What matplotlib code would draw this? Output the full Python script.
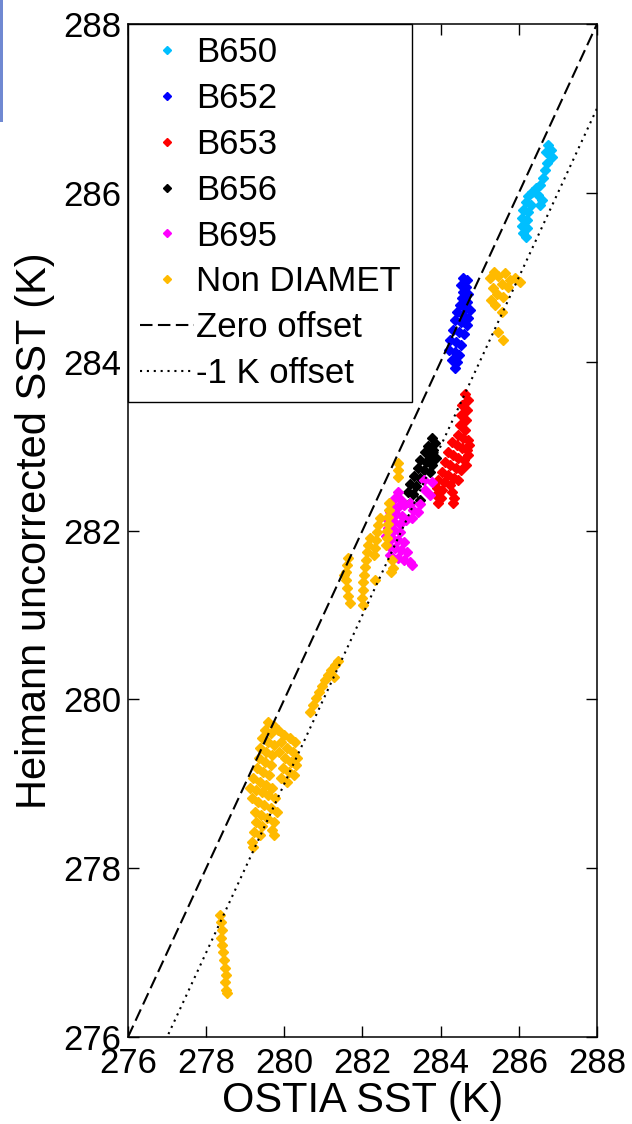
import numpy as np
import matplotlib
matplotlib.use("Agg")
import matplotlib.pyplot as plt
from matplotlib.patches import Rectangle

plt.rcParams['font.family'] = ['Liberation Sans', 'DejaVu Sans']

# ---------------- data ----------------
b650_x = [286.75, 286.82, 286.70, 286.85, 286.72, 286.67, 286.62, 286.54, 286.44, 286.34, 286.24, 286.49,
          286.59, 286.18, 286.31, 286.54, 286.11, 286.24, 286.08, 286.21, 286.08, 286.21, 286.11, 286.18]
b650_y = [286.57, 286.51, 286.48, 286.42, 286.35, 286.27, 286.18, 286.09, 286.06, 286.01, 285.96, 285.97,
          285.92, 285.89, 285.86, 285.86, 285.80, 285.77, 285.70, 285.68, 285.61, 285.58, 285.52, 285.48]

b652_x = [284.57, 284.67, 284.52, 284.65, 284.57, 284.70, 284.55, 284.67, 284.50, 284.62, 284.75, 284.42,
          284.57, 284.70, 284.37, 284.52, 284.67, 284.32, 284.47, 284.60, 284.24, 284.39, 284.52, 284.21,
          284.37, 284.47, 284.29, 284.42, 284.37]
b652_y = [284.99, 284.97, 284.91, 284.88, 284.83, 284.80, 284.75, 284.71, 284.67, 284.64, 284.61, 284.59,
          284.55, 284.52, 284.49, 284.47, 284.43, 284.38, 284.35, 284.33, 284.26, 284.23, 284.20, 284.14,
          284.11, 284.08, 284.02, 284.00, 283.93]

b653_x = [284.62, 284.70, 284.55, 284.67, 284.52, 284.65, 284.50, 284.62, 284.44, 284.57, 284.70, 284.29,
          284.42, 284.73, 284.55, 284.67, 284.19, 284.32, 284.70, 284.44, 284.60, 284.11, 284.24, 284.65,
          284.39, 284.52, 284.03, 284.19, 284.34, 283.93, 284.44, 284.09, 284.24, 283.91, 284.03, 284.29,
          283.88, 284.01, 284.34, 283.93, 284.32]
b653_y = [283.62, 283.55, 283.49, 283.43, 283.37, 283.31, 283.25, 283.19, 283.13, 283.10, 283.07, 283.05,
          283.01, 283.01, 282.98, 282.95, 282.93, 282.89, 282.89, 282.86, 282.84, 282.81, 282.78, 282.78,
          282.74, 282.72, 282.69, 282.66, 282.62, 282.60, 282.60, 282.57, 282.54, 282.50, 282.48, 282.46,
          282.42, 282.39, 282.39, 282.33, 282.33]

b656_x = [283.78, 283.86, 283.68, 283.80, 283.60, 283.73, 283.88, 283.47, 283.63, 283.78, 283.42, 283.57,
          283.73, 283.32, 283.47, 283.22, 283.37, 283.16, 283.29, 283.47, 283.22]
b656_y = [283.10, 283.04, 283.00, 282.95, 282.93, 282.88, 282.86, 282.84, 282.81, 282.78, 282.74, 282.72,
          282.69, 282.65, 282.62, 282.55, 282.53, 282.46, 282.43, 282.36, 282.33]

b695_x = [282.91, 282.83, 282.99, 282.76, 282.91, 283.06, 282.70, 282.86, 283.01, 283.22, 283.29, 282.65,
          282.81, 282.96, 283.11, 283.27, 282.65, 282.81, 282.96, 282.60, 282.76, 282.91, 283.06, 282.68,
          282.83, 282.99, 283.14, 282.70, 282.91, 283.06, 283.22, 283.27, 283.47, 283.60, 283.78, 283.73,
          283.42, 283.57]
b695_y = [282.46, 282.39, 282.36, 282.30, 282.28, 282.30, 282.22, 282.20, 282.17, 282.33, 282.24, 282.12,
          282.10, 282.08, 282.12, 282.15, 282.03, 282.01, 281.98, 281.94, 281.91, 281.89, 281.86, 281.82,
          281.79, 281.77, 281.75, 281.71, 281.67, 281.65, 281.63, 281.59, 282.31, 282.48, 282.57, 282.42,
          282.22, 282.60]

nondiamet_x = [
    # near 285.5
    285.37, 285.26, 285.47, 285.65, 285.77, 285.90, 286.03, 285.57, 285.72, 285.34, 285.44, 285.60,
    285.29, 285.39, 285.57, 285.47, 285.60,
    # near 282.9
    282.91, 282.91, 282.91,
    # near 282-282.7
    282.68, 282.68, 282.65, 282.65, 282.63, 282.63, 282.60, 282.76, 282.78, 282.73,
    282.45, 282.40, 282.37, 282.35, 282.32, 282.29,
    282.19, 282.14, 282.12, 282.09, 282.06, 282.04, 282.01, 282.01, 281.99, 282.01, 282.32,
    281.63, 281.60, 281.58, 281.58, 281.60, 281.63, 281.68, 281.53,
    # near 281
    281.37, 281.30, 281.19, 281.12, 281.04, 280.96, 280.89, 280.81, 280.73, 280.66, 281.27,
    # near 279.7
    279.58, 279.74, 279.51, 279.66, 279.84, 279.99, 280.15, 280.27, 279.43, 279.58, 279.74, 279.92,
    280.07, 280.22, 280.32, 279.38, 279.53, 279.68, 279.86, 280.02, 280.17, 280.30, 279.35, 279.51,
    279.66, 279.97, 280.12, 280.25, 279.30, 279.45, 279.61, 279.92, 280.07, 279.20, 279.38, 279.53,
    279.68, 279.12, 279.28, 279.43, 279.58, 279.76, 279.17, 279.33, 279.48, 279.66, 279.81, 279.25,
    279.40, 279.56, 279.74, 279.28, 279.43, 279.68, 279.22, 279.38, 279.74, 279.17, 279.20,
    # near 278.4
    278.35, 278.38, 278.41, 278.38, 278.41, 278.43, 278.46, 278.48, 278.51, 278.48, 278.51, 278.53]
nondiamet_y = [
    285.06, 284.99, 285.02, 285.05, 284.97, 284.99, 284.94, 284.92, 284.88, 284.87, 284.80, 284.77,
    284.73, 284.67, 284.59, 284.35, 284.26,
    282.80, 282.72, 282.63,
    282.33, 282.24, 282.16, 282.08, 281.99, 281.91, 281.83, 281.65, 281.56, 281.51,
    282.15, 282.07, 281.98, 281.89, 281.79, 281.71,
    281.91, 281.83, 281.75, 281.65, 281.57, 281.47, 281.39, 281.30, 281.20, 281.12, 281.41,
    281.67, 281.59, 281.51, 281.41, 281.32, 281.22, 281.14, 281.47,
    280.45, 280.41, 280.35, 280.29, 280.23, 280.16, 280.09, 280.02, 279.93, 279.85, 280.26,
    279.73, 279.68, 279.64, 279.60, 279.64, 279.58, 279.54, 279.49, 279.54, 279.49, 279.46, 279.49,
    279.42, 279.38, 279.31, 279.42, 279.38, 279.34, 279.38, 279.31, 279.26, 279.22, 279.31, 279.26,
    279.22, 279.19, 279.14, 279.10, 279.19, 279.14, 279.10, 279.07, 279.02, 279.07, 279.02, 278.99,
    278.95, 278.95, 278.93, 278.90, 278.87, 278.83, 278.83, 278.78, 278.75, 278.71, 278.67, 278.67,
    278.63, 278.59, 278.55, 278.55, 278.50, 278.45, 278.43, 278.39, 278.39, 278.31, 278.25,
    277.45, 277.36, 277.27, 277.17, 277.09, 277.01, 276.91, 276.82, 276.73, 276.65, 276.56, 276.52]

series_names = ['B650', 'B652', 'B653', 'B656', 'B695', 'Non DIAMET']
series_colors = ['#00BFFF', '#0000FF', '#FF0000', '#000000', '#FF00FF', '#FFBA00']
series_x = [b650_x, b652_x, b653_x, b656_x, b695_x, nondiamet_x]
series_y = [b650_y, b652_y, b653_y, b656_y, b695_y, nondiamet_y]

offset_names = ['Zero offset', '-1 K offset']
offset_values = [0.0, -1.0]

axis_min, axis_max = 276, 288
tick_values = [276, 278, 280, 282, 284, 286, 288]

# ---------------- figure ----------------
W, H = 632, 1124
fig = plt.figure(figsize=(W / 100, H / 100), dpi=100)
ax = fig.add_axes([128 / W, 1 - 1037 / H, 469 / W, 1013 / H])

for name, col, xs, ys in zip(series_names, series_colors, series_x, series_y):
    ax.plot(xs, ys, linestyle='none', marker='D', markersize=5.6,
            markerfacecolor=col, markeredgecolor=col, markeredgewidth=1.0,
            label=name, zorder=2)

line_x = np.array([axis_min, axis_max], dtype=float)
styles = [(0, (6, 2.6)), (0, (1, 2.3))]
for name, off, ls in zip(offset_names, offset_values, styles):
    ax.plot(line_x, line_x + off, color='black', linestyle=ls, linewidth=1.5,
            label=name, zorder=3)

ax.set_xlim(axis_min, axis_max)
ax.set_ylim(axis_min, axis_max)
ax.set_xticks(tick_values)
ax.set_yticks(tick_values)
ax.tick_params(direction='in', length=7.7, width=1.0, top=True, right=True,
               labelsize=25, pad=5)
ax.tick_params(axis='x', pad=7)
for s in ax.spines.values():
    s.set_linewidth(1.1)

ax.set_xlabel('OSTIA SST (K)', fontsize=30, labelpad=1)
ax.set_ylabel('Heimann uncorrected SST (K)', fontsize=30, labelpad=6)

leg = ax.legend(loc='upper left', bbox_to_anchor=(0, 1), borderaxespad=0,
                fontsize=25, numpoints=1, handlelength=1.55, handletextpad=0.05,
                labelspacing=0.37, borderpad=0.35, fancybox=False, framealpha=1,
                edgecolor='black')
leg.get_frame().set_linewidth(1.0)
for h in leg.legend_handles[:len(series_names)]:
    h.set_markersize(3.6)

# blue strip at the top-left corner of the screenshot
fig.patches.append(Rectangle((0, 1 - 122 / H), 3 / W, 122 / H, transform=fig.transFigure,
                             facecolor='#7089D2', edgecolor='none'))

fig.savefig('out.png', dpi=100)
